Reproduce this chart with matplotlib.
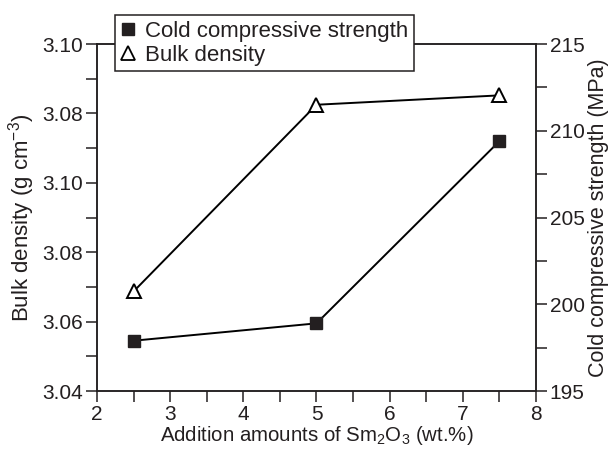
import numpy as np
import matplotlib.pyplot as plt
from matplotlib.ticker import MultipleLocator
from matplotlib.lines import Line2D

plt.rcParams['font.family'] = ['Liberation Sans', 'DejaVu Sans']
plt.rcParams['mathtext.default'] = 'regular'

# data
sm2o3 = [2.5, 5.0, 7.5]
bulk_density = [3.0687, 3.1225, 3.1252]   # plotted on the (oddly labelled) left axis
strength = [197.9, 198.9, 209.4]          # MPa, right axis

left_ticks = [3.04, 3.06, 3.08, 3.10, 3.12, 3.14]
left_labels = ['3.04', '3.06', '3.08', '3.10', '3.08', '3.10']
right_ticks = [195, 200, 205, 210, 215]
x_ticks = [2, 3, 4, 5, 6, 7, 8]

ink = '#231f20'

fig = plt.figure(figsize=(6.09, 4.51), dpi=100)
ax = fig.add_axes([0.1593, 0.1330, 0.7208, 0.7694])
ax2 = ax.twinx()

ax.plot(sm2o3, bulk_density, color='black', lw=1.4, marker='^', ms=9.5,
        mfc='white', mec='black', mew=1.4, zorder=3)
ax2.plot(sm2o3, strength, color='black', lw=1.4, marker='s', ms=9,
         mfc=ink, mec=ink, zorder=3)

ax.set_xlim(2, 8)
ax.set_ylim(3.04, 3.14)
ax2.set_ylim(195, 215)

ax.set_xticks(x_ticks)
ax.xaxis.set_minor_locator(MultipleLocator(0.5))
ax.set_yticks(left_ticks)
ax.set_yticklabels(left_labels)
ax.yaxis.set_minor_locator(MultipleLocator(0.01))
ax2.set_yticks(right_ticks)
ax2.yaxis.set_minor_locator(MultipleLocator(2.5))

for a in (ax, ax2):
    a.tick_params(which='both', direction='out', labelsize=15, width=1.1,
                  length=8, pad=2, color=ink, labelcolor=ink)
    for s in a.spines.values():
        s.set_linewidth(1.1)
        s.set_color(ink)

ax.set_xlabel('Addition amounts of Sm$_2$O$_3$ (wt.%)', fontsize=14.7, labelpad=0,
              color=ink)
ax.set_ylabel('Bulk density (g cm$^{-3}$)', fontsize=16, labelpad=4, color=ink)
ax2.set_ylabel('Cold compressive strength (MPa)', fontsize=15.5, labelpad=2,
               color=ink)

handles = [
    Line2D([], [], ls='none', marker='s', ms=9, mfc=ink, mec=ink),
    Line2D([], [], ls='none', marker='^', ms=10, mfc='white', mec='black', mew=1.3),
]
leg = ax2.legend(handles, ['Cold compressive strength', 'Bulk density'],
                 loc='upper left', bbox_to_anchor=(115 / 609, 1 - 15 / 451),
                 bbox_transform=fig.transFigure, fontsize=16,
                 frameon=True, fancybox=False, edgecolor=ink,
                 handlelength=0.7, handletextpad=0.4, borderpad=0.25,
                 labelspacing=0.15, borderaxespad=0)
leg.get_frame().set_linewidth(1.1)
leg.get_frame().set_alpha(1)
for t in leg.get_texts():
    t.set_color(ink)

fig.savefig('out.png', dpi=100)
